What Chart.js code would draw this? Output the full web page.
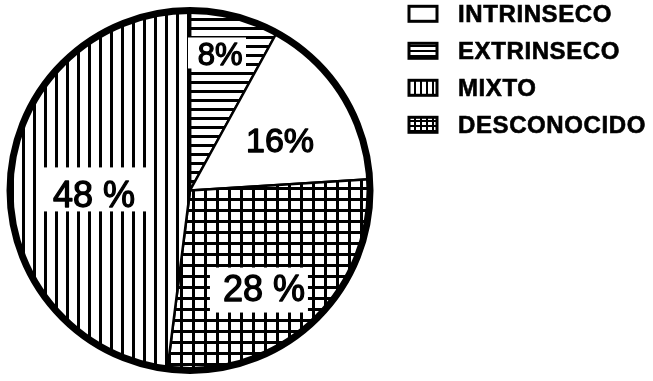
<!DOCTYPE html>
<html>
<head>
<meta charset="utf-8">
<script src="https://cdn.jsdelivr.net/npm/chart.js@4"></script>
<style>
  html, body { margin: 0; padding: 0; background: #fff; }
  #wrap { width: 653px; height: 381px; }
</style>
</head>
<body>
<div id="wrap"><canvas id="c" width="653" height="381"></canvas></div>
<script>
// ---- data (pie order: clockwise from 12 o'clock) ----
const pieCategories = ['EXTRINSECO', 'INTRINSECO', 'DESCONOCIDO', 'MIXTO'];
const pieValues = [8, 16, 28, 48];
const pieLabels = ['8%', '16%', '28 %', '48 %'];
const legendOrder = ['INTRINSECO', 'EXTRINSECO', 'MIXTO', 'DESCONOCIDO'];

// ---- styles ----
const FONT = "'Liberation Sans', Arial, Helvetica, sans-serif";
const fillKind = { INTRINSECO: 'blank', EXTRINSECO: 'hlines', MIXTO: 'vlines', DESCONOCIDO: 'grid' };
// label placement relative to the pie centre, as a fraction of the outer radius
const labelStyle = {
  EXTRINSECO:  { dx: 0.167, dy: -0.761, size: 31, box: { dx: 0.150, dy: -0.764, w: 58, h: 31 } },
  INTRINSECO:  { dx: 0.50,  dy: -0.28,  size: 34, box: null },
  DESCONOCIDO: { dx: 0.411, dy: 0.542,  size: 36, box: { dx: 0.383, dy: 0.553, w: 98, h: 45 } },
  MIXTO:       { dx: -0.533, dy: 0.022, size: 36, box: { dx: -0.528, dy: -0.006, w: 104, h: 44 } }
};

function makePattern(kind, scale) {
  if (kind === 'blank') return '#ffffff';
  const c = document.createElement('canvas');
  const x = c.getContext('2d');
  let w, h;
  if (kind === 'hlines') { w = 4; h = scale ? 5 : 9; }
  if (kind === 'vlines') { w = scale ? 6 : 11; h = 4; }
  if (kind === 'grid') { w = scale ? 6 : 12; h = scale ? 5 : 11; }
  c.width = w; c.height = h;
  x.fillStyle = '#fff'; x.fillRect(0, 0, w, h);
  x.fillStyle = '#000';
  const t = scale ? 2 : 3;
  if (kind === 'hlines') x.fillRect(0, 0, w, t);
  if (kind === 'vlines') x.fillRect(0, 0, t, h);
  if (kind === 'grid') { x.fillRect(0, 0, t, h); x.fillRect(0, 0, w, t); }
  return x.createPattern(c, 'repeat');
}

const sliceFills = pieCategories.map(k => makePattern(fillKind[k], false));

const pieDecor = {
  id: 'pieDecor',
  afterDatasetsDraw(chart) {
    const ctx = chart.ctx;
    const arcs = chart.getDatasetMeta(0).data;
    const a0 = arcs[0];
    const cx = a0.x, cy = a0.y, R = a0.outerRadius;
    ctx.save();
    // thick outer ring
    ctx.beginPath();
    ctx.arc(cx, cy, R, 0, Math.PI * 2);
    ctx.lineWidth = 7;
    ctx.strokeStyle = '#000';
    ctx.stroke();
    // value labels
    chart.data.labels.forEach((cat, i) => {
      const s = labelStyle[cat];
      if (s.box) {
        ctx.fillStyle = '#fff';
        const bx = cx + s.box.dx * R, by = cy + s.box.dy * R;
        ctx.fillRect(bx - s.box.w / 2, by - s.box.h / 2, s.box.w, s.box.h);
      }
      ctx.fillStyle = '#000';
      ctx.strokeStyle = '#000';
      ctx.lineWidth = 1.3;
      ctx.lineJoin = 'round';
      ctx.font = 'normal ' + s.size + 'px ' + FONT;
      ctx.textAlign = 'center';
      ctx.textBaseline = 'alphabetic';
      const tx = cx + s.dx * R, ty = cy + s.dy * R + s.size * 0.358;
      ctx.fillText(pieLabels[i], tx, ty);
      ctx.strokeText(pieLabels[i], tx, ty);
    });
    ctx.restore();
  },
  afterDraw(chart) {
    // legend on the right
    const ctx = chart.ctx;
    ctx.save();
    const x0 = 409, y0 = 13.8, step = 37, bw = 28, bh = 15;
    legendOrder.forEach((cat, j) => {
      const y = y0 + j * step;
      ctx.fillStyle = makePattern(fillKind[cat], true);
      ctx.fillRect(x0, y - bh / 2, bw, bh);
      ctx.lineWidth = 3;
      ctx.strokeStyle = '#000';
      ctx.strokeRect(x0, y - bh / 2, bw, bh);
      ctx.fillStyle = '#000';
      ctx.font = 'bold 24px ' + FONT;
      ctx.letterSpacing = '0.6px';
      ctx.textAlign = 'left';
      ctx.textBaseline = 'alphabetic';
      ctx.lineWidth = 0.6;
      ctx.fillText(cat, 458, y + 24 * 0.358);
      ctx.strokeText(cat, 458, y + 24 * 0.358);
    });
    ctx.restore();
  }
};

new Chart(document.getElementById('c'), {
  type: 'pie',
  data: {
    labels: pieCategories,
    datasets: [{
      data: pieValues,
      backgroundColor: sliceFills,
      borderColor: '#000',
      borderWidth: 2.5
    }]
  },
  options: {
    responsive: false,
    animation: false,
    devicePixelRatio: 1,
    radius: 180,
    layout: { padding: { left: 0, top: 0, bottom: 0, right: 273 } },
    plugins: {
      legend: { display: false },
      tooltip: { enabled: false }
    }
  },
  plugins: [pieDecor]
});
</script>
</body>
</html>
